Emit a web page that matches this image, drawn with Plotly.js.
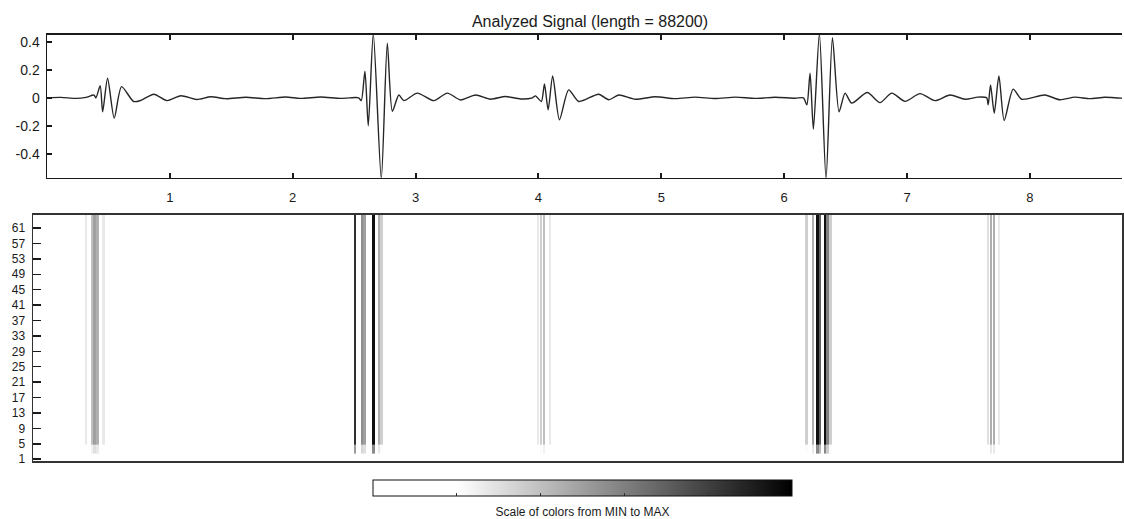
<!DOCTYPE html>
<html><head><meta charset="utf-8">
<script src="https://cdn.plot.ly/plotly-3.0.1.min.js"></script>
<style>html,body{margin:0;padding:0;background:#fff;overflow:hidden}</style>
</head><body><div id="chart" style="width:1124px;height:519px"></div>
<script>
// ---- Analyzed signal (time in units of 10^4 samples) ----
const signalX = [0, 0.114, 0.236, 0.317, 0.382, 0.398, 0.433, 0.453, 0.493, 0.547, 0.607, 0.705, 0.764, 0.870, 0.976, 1.089, 1.220, 1.333, 1.455, 1.618, 1.780, 1.943, 2.065, 2.228, 2.390, 2.512,
  2.537, 2.558, 2.588, 2.615, 2.656, 2.721, 2.770, 2.811, 2.864, 2.905, 3.014, 3.149, 3.258, 3.366, 3.488, 3.610, 3.732, 3.854, 3.951,
  3.976, 4.024, 4.049, 4.079, 4.116, 4.171, 4.246, 4.328, 4.490, 4.572, 4.653, 4.789, 4.951, 5.114, 5.276, 5.439, 5.602, 5.764, 5.927, 6.089, 6.157,
  6.185, 6.211, 6.238, 6.287, 6.341, 6.393, 6.447, 6.496, 6.550, 6.677, 6.780, 6.876, 6.984, 7.106, 7.228, 7.350, 7.472, 7.577, 7.648,
  7.661, 7.680, 7.710, 7.748, 7.791, 7.864, 7.933, 8.122, 8.244, 8.366, 8.488, 8.610, 8.748, 8.82];
const signalY = [0, 0.003, -0.004, 0.003, 0.02, 0.0, 0.086, -0.10, 0.14, -0.145, 0.08, -0.026, -0.018, 0.026, -0.02, 0.015, -0.012, 0.008, -0.006, 0.004, -0.006, 0.006, -0.004, 0.006, -0.004, 0.002,
  0.0, -0.02, 0.19, -0.2, 0.46, -0.58, 0.39, -0.096, 0.02, -0.02, 0.034, -0.02, 0.034, -0.015, 0.02, -0.01, 0.01, -0.008, 0.0,
  0.014, -0.026, 0.1, -0.086, 0.157, -0.157, 0.057, -0.026, 0.026, -0.014, 0.02, -0.01, 0.008, -0.006, 0.005, -0.005, 0.005, -0.004, 0.004, -0.003, 0.0,
  -0.05, 0.176, -0.224, 0.46, -0.58, 0.43, -0.1, 0.034, -0.038, 0.038, -0.034, 0.034, -0.025, 0.03, -0.02, 0.02, -0.01, 0.005, 0.0,
  -0.05, 0.093, -0.11, 0.157, -0.162, 0.062, -0.01, 0.02, -0.014, 0.005, -0.006, 0.004, -0.002, 0];

// ---- Scalogram lines (time position, relative level 0..1) ----
const lineTimes  = [0.426, 0.472, 0.493, 0.517, 0.565,
                    2.587, 2.643, 2.664, 2.736, 2.784, 2.800,
                    4.058, 4.082, 4.106, 4.154,
                    6.215, 6.269, 6.303, 6.324, 6.364, 6.384, 6.408,
                    7.673, 7.697, 7.721, 7.761];
const lineLevels = [0.27, 0.40, 0.50, 0.45, 0.27,
                    0.85, 0.55, 0.50, 0.95, 0.45, 0.35,
                    0.27, 0.35, 0.40, 0.27,
                    0.35, 0.45, 0.95, 0.70, 0.95, 0.60, 0.35,
                    0.30, 0.45, 0.45, 0.27];
const scaleEdges  = [0.5, 2.4, 4.8, 64.5];   // scale-index bands
const scaleFactor = [0, 0.6, 1];              // relative strength per band
const scaleTicks  = [1, 5, 9, 13, 17, 21, 25, 29, 33, 37, 41, 45, 49, 53, 57, 61];
const timeTicks   = [1, 2, 3, 4, 5, 6, 7, 8];
const ampTicks    = [-0.4, -0.2, 0, 0.2, 0.4];
const ampLabels   = ['-0.4', '-0.2', '0', '0.2', '0.4'];
const colorTicks  = [0.2, 0.4, 0.6, 0.8];

const X_MAX = 8.75;
const W = 1124, H = 519;

// build heatmap bin edges and cell values from the line arrays
const halfW = 0.01;
const L = lineTimes.map(t => t - halfW), R = lineTimes.map(t => t + halfW);
for (let i = 1; i < L.length; i++) {
  if (L[i] < R[i - 1]) { const m = (lineTimes[i - 1] + lineTimes[i]) / 2; R[i - 1] = m; L[i] = m; }
}
const xEdges = [0], cells = [];
for (let i = 0; i < L.length; i++) {
  if (L[i] > xEdges[xEdges.length - 1] + 1e-9) { xEdges.push(L[i]); cells.push(0); }
  xEdges.push(R[i]); cells.push(lineLevels[i]);
}
xEdges.push(X_MAX); cells.push(0);
const zGrid = scaleFactor.map(f => cells.map(v => v * f));

const fontFam = '"Liberation Sans", Arial, sans-serif';
const ink = '#1a1a1a';

const traces = [
  { type: 'scatter', mode: 'lines', x: signalX, y: signalY, xaxis: 'x', yaxis: 'y',
    line: { color: '#262626', width: 1.4, shape: 'spline', smoothing: 0.7 }, hoverinfo: 'skip' },
  { type: 'heatmap', x: xEdges, y: scaleEdges, z: zGrid, xaxis: 'x2', yaxis: 'y2',
    zmin: 0, zmax: 1, zsmooth: false,
    colorscale: [[0, '#ffffff'], [0.2, '#ffffff'], [1, '#000000']],
    showscale: true,
    colorbar: {
      orientation: 'h', x: 582.5 / W, xanchor: 'center', y: (H - 480) / H, yanchor: 'top',
      len: 419 / W, lenmode: 'fraction', thickness: 16, thicknessmode: 'pixels',
      outlinecolor: '#111', outlinewidth: 1, xpad: 0, ypad: 0,
      tickmode: 'array', tickvals: colorTicks, ticktext: colorTicks.map(() => ''), ticks: 'inside', ticklen: 3, tickcolor: '#333',
      tickfont: { family: fontFam, size: 10, color: ink },
      title: { text: 'Scale of colors from MIN to MAX', side: 'bottom', font: { family: fontFam, size: 12, color: ink } }
    }, hoverinfo: 'skip' }
];

const layout = {
  width: W, height: H, margin: { l: 0, r: 0, t: 0, b: 0 },
  paper_bgcolor: '#fff', plot_bgcolor: '#fff', showlegend: false,
  font: { family: fontFam, color: ink, size: 12 },
  title: { text: 'Analyzed Signal (length = 88200)', x: 590 / W, xanchor: 'center', y: (H - 21) / H, yanchor: 'middle',
           font: { family: fontFam, size: 16, color: ink } },
  xaxis: { domain: [47 / W, 1122 / W], range: [0, X_MAX], tickmode: 'array', tickvals: timeTicks, ticks: 'inside', ticklen: 5, tickwidth: 2,
           tickcolor: ink, showline: true, linecolor: ink, linewidth: 1.5, mirror: 'ticks', showgrid: false, zeroline: false,
           ticklabelstandoff: 7, tickfont: { family: fontFam, size: 13, color: ink }, anchor: 'y' },
  yaxis: { domain: [(H - 178) / H, (H - 35) / H], range: [-0.571, 0.45], tickmode: 'array', tickvals: ampTicks, ticktext: ampLabels,
           ticks: 'inside', ticklen: 5, tickwidth: 2, tickcolor: ink, showline: true, linecolor: ink, linewidth: 1.5,
           mirror: false, showgrid: false, zeroline: false, ticklabelstandoff: 3,
           tickfont: { family: fontFam, size: 14, color: ink }, anchor: 'x' },
  xaxis2: { domain: [33 / W, 1122 / W], range: [0, X_MAX], showticklabels: false, ticks: '', showline: true, linecolor: '#333',
            linewidth: 1.5, mirror: true, showgrid: false, zeroline: false, anchor: 'y2' },
  yaxis2: { domain: [(H - 462) / H, (H - 215) / H], range: [0.5, 64.5], tickmode: 'array', tickvals: scaleTicks, ticks: 'inside', ticklen: 8,
            tickwidth: 1.5, tickcolor: ink, showline: true, linecolor: '#333', linewidth: 1.5, mirror: true, showgrid: false,
            zeroline: false, ticklabelstandoff: 4, tickfont: { family: fontFam, size: 12, color: ink }, anchor: 'x2' }
};

Plotly.newPlot('chart', traces, layout, { staticPlot: true, displayModeBar: false });
</script>
</body></html>
